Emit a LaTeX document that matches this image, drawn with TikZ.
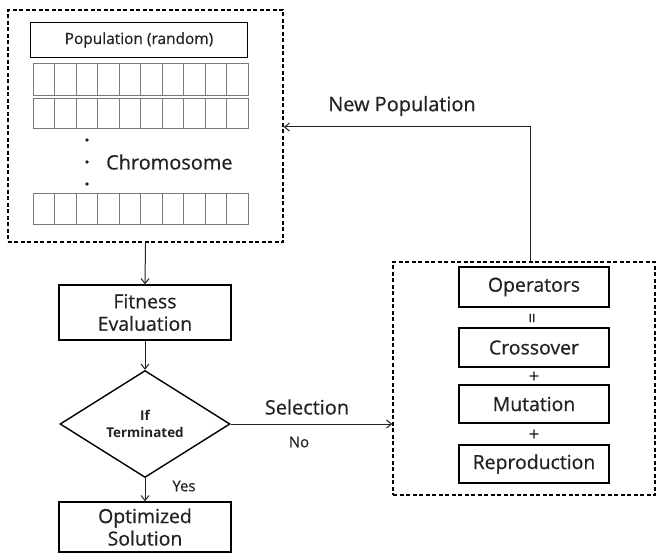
\documentclass[tikz,border=0pt]{standalone}
\usepackage{fontspec}
\setmainfont{Open Sans}[FakeBold=0.6]
\newfontfamily\boldface{Open Sans Bold}
\usetikzlibrary{arrows.meta,shapes.geometric}
\definecolor{ink}{HTML}{222222}
\definecolor{cellline}{HTML}{7A7A7A}
\begin{document}
\begin{tikzpicture}[x=1bp,y=-1bp,
  every node/.style={text=ink},
  solidbox/.style={draw=black,line width=1.4bp,inner sep=0,align=center,font=\fontsize{19.5}{22.5}\selectfont},
  groupbox/.style={draw=black,line width=1.5bp,dash pattern=on 4bp off 2.5bp,inner sep=0},
  flow/.style={draw=ink,line width=1bp,-{Straight Barb[length=5bp,width=8bp,line width=1bp]}},
  lbl/.style={font=\fontsize{20}{23}\selectfont,inner sep=0},
  small/.style={font=\fontsize{15}{18}\selectfont,inner sep=0},
  sign/.style={font=\fontsize{18}{20}\selectfont,inner sep=0}]
\useasboundingbox (0,0) rectangle (660,554);

% population group
\node[groupbox,minimum width=275bp,minimum height=232bp] (popgroup) at (145.5,126) {};
\node[solidbox,minimum width=217bp,minimum height=35bp,font=\fontsize{15.5}{18}\selectfont] (poptitle) at (139,40) {Population (random)};

% chromosome strings
\foreach \top/\bot in {63/95,98/128,193/224}{
  \draw[cellline,line width=0.8bp] (33,\top) rectangle (248,\bot);
  \foreach \i in {1,...,9}{
    \draw[cellline,line width=0.8bp] (33+21.5*\i,\top) -- (33+21.5*\i,\bot);
  }
}
\foreach \y in {140,162,184}{
  \fill[ink] (87,\y) circle (1.8bp);
}
\node[lbl,anchor=west] (chromo) at (106,162) {Chromosome};

% main flow
\node[solidbox,minimum width=172bp,minimum height=55bp] (fitness) at (145,312.5) {Fitness\\Evaluation};
\node[draw=black,line width=1.4bp,shape=diamond,inner sep=0,minimum width=170bp,minimum height=107bp,
      align=center,font=\fontsize{13.5}{16.5}\boldface] (term) at (145,424) {If\\Terminated};
\node[solidbox,minimum width=172bp,minimum height=50bp] (optsol) at (145,527) {Optimized\\Solution};

% operator group
\node[groupbox,minimum width=262bp,minimum height=233bp] (opgroup) at (524,378.5) {};
\node[solidbox,minimum width=150bp,minimum height=40bp] (operators) at (534,287) {Operators};
\node[solidbox,minimum width=150bp,minimum height=39bp] (crossover) at (534,347.5) {Crossover};
\node[solidbox,minimum width=150bp,minimum height=38bp] (mutation) at (534,404) {Mutation};
\node[solidbox,minimum width=150bp,minimum height=38bp] (reproduction) at (534,464) {Reproduction};
\node[sign,rotate=90] (eqsign) at (534,318) {=};
\node[sign] (plusa) at (534,377) {+};
\node[sign] (plusb) at (534,435) {+};

% connectors
\draw[flow] (popgroup.south) -- (fitness.north);
\draw[flow] (fitness.south) -- (term.north);
\draw[flow] (term.south) -- (optsol.north);
\draw[flow] (term.east) -- (term.east -| opgroup.west);
\coordinate (turn) at (530,127);
\draw[flow] (turn |- opgroup.north) -- (turn) -- (turn -| popgroup.east);

% connector labels
\node[small] (yes) at (184,486) {Yes};
\node[lbl] (selection) at (307,407) {Selection};
\node[small] (no) at (299,442) {No};
\node[lbl] (newpop) at (402,106) {New Population};
\end{tikzpicture}
\end{document}
